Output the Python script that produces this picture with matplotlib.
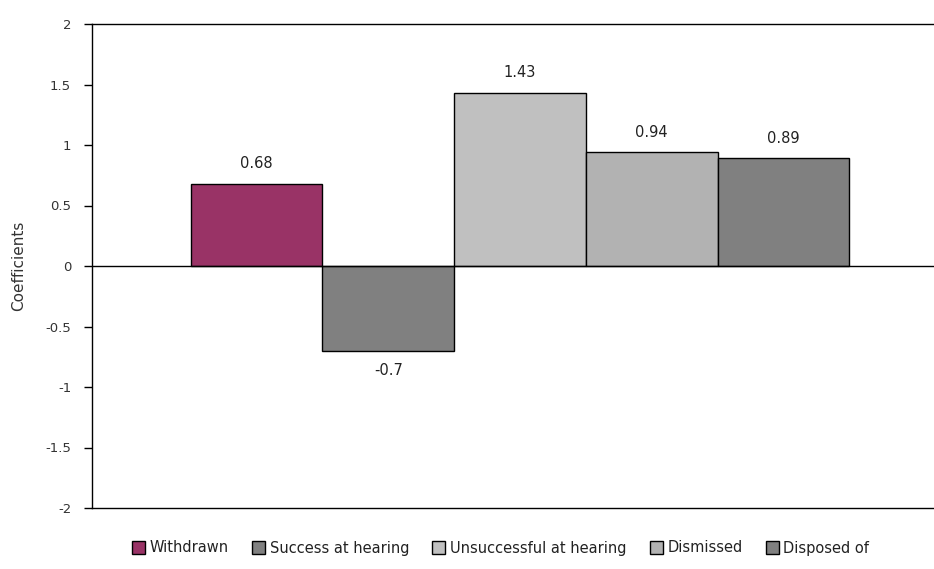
import matplotlib
matplotlib.use('Agg')

import matplotlib.pyplot as plt
from matplotlib.patches import Patch

categories = ['Withdrawn', 'Success at hearing', 'Unsuccessful at hearing', 'Dismissed', 'Disposed of']
coefficients = [0.68, -0.7, 1.43, 0.94, 0.89]
value_labels = ['0.68', '-0.7', '1.43', '0.94', '0.89']
colors = ['#993366', '#808080', '#C0C0C0', '#B2B2B2', '#808080']
yticks = [-2, -1.5, -1, -0.5, 0, 0.5, 1, 1.5, 2]
ytick_labels = ['-2', '-1.5', '-1', '-0.5', '0', '0.5', '1', '1.5', '2']

plt.rcParams['font.family'] = ['DejaVu Sans']

fig = plt.figure(figsize=(9.34, 5.69), dpi=100)
# axes: left 92px, right at image edge, top 24px, bottom 508px
ax = fig.add_axes([92 / 934, 1 - 508 / 569, 1 - 92 / 934, (508 - 24) / 569])

x = list(range(len(categories)))
ax.bar(x, coefficients, width=1.0, color=colors, edgecolor='black', linewidth=1.0, zorder=3)
ax.axhline(0, color='black', linewidth=1.0, zorder=4)

# data labels
for xi, v, lab in zip(x, coefficients, value_labels):
    if v >= 0:
        ax.annotate(lab, (xi, v), xytext=(0, 9), textcoords='offset points',
                    ha='center', va='bottom', fontsize=10.5, color='#222222')
    else:
        ax.annotate(lab, (xi, v), xytext=(0, -9), textcoords='offset points',
                    ha='center', va='top', fontsize=10.5, color='#222222')

ax.set_ylim(-2, 2)
ax.set_xlim(-0.5 - 99 / 132, 4.5 + 85 / 132)
ax.set_yticks(yticks)
ax.set_yticklabels(ytick_labels)
ax.set_xticks([])
ax.tick_params(axis='y', direction='out', length=6, width=1, labelsize=9.5, colors='black',
               labelcolor='#333333', pad=9)
ax.set_ylabel('Coefficients', fontsize=11, color='#333333', labelpad=14)

ax.spines['right'].set_visible(False)
for s in ['left', 'top', 'bottom']:
    ax.spines[s].set_linewidth(1.0)
    ax.spines[s].set_color('black')

handles = [Patch(facecolor=c, edgecolor='black', linewidth=1.0) for c in colors]
fig.legend(handles, categories, loc='center', bbox_to_anchor=(0.536, 1 - 548 / 569), ncol=5,
           frameon=False, fontsize=10.5, handlelength=0.9, handleheight=0.9,
           handletextpad=0.3, columnspacing=1.6, labelcolor='#222222')

fig.savefig('out.png', dpi=100)
